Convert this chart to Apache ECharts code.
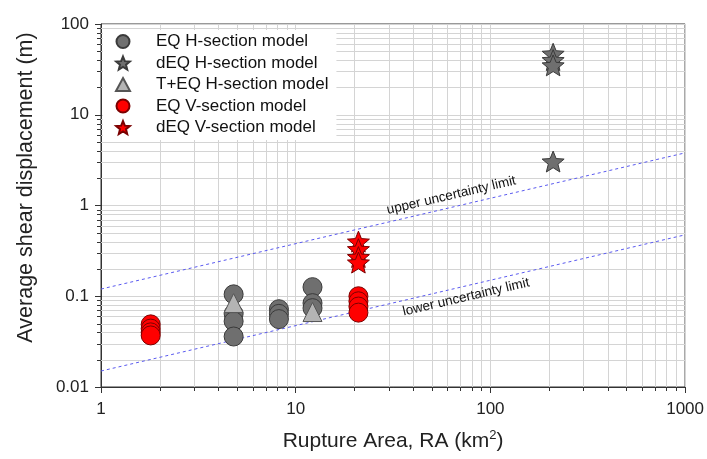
<!DOCTYPE html>
<html>
<head>
<meta charset="utf-8">
<script src="https://cdn.jsdelivr.net/npm/echarts@6/dist/echarts.min.js"></script>
<style>
  html, body { margin: 0; padding: 0; background: #fff; }
  #chart { width: 707px; height: 459px; }
</style>
</head>
<body>
<div id="chart"></div>
<script>
// [rupture area (km²), average shear displacement (m)]
const eqHSection = [
  [4.8, 0.105], [4.8, 0.064], [4.8, 0.053], [4.8, 0.036],
  [8.2, 0.072], [8.2, 0.064], [8.2, 0.056],
  [12.2, 0.126], [12.2, 0.084], [12.2, 0.074]
];
const dEqHSection = [[210, 47], [210, 40], [210, 35], [210, 3.05]];
const tEqHSection = [[4.8, 0.084], [12.2, 0.067]];
const eqVSection = [
  [1.8, 0.049], [1.8, 0.044], [1.8, 0.040], [1.8, 0.037],
  [21, 0.100], [21, 0.088], [21, 0.077], [21, 0.066]
];
const dEqVSection = [[21, 0.40], [21, 0.33], [21, 0.27], [21, 0.235]];

// uncertainty bounds (end points across the plotted range)
const upperLimit = [[1, 0.12], [1000, 3.8]];
const lowerLimit = [[1, 0.015], [1000, 0.475]];

// where the bound captions sit, in data units
const upperCaptionAt = [63, 1.29];
const lowerCaptionAt = [75, 0.0975];

const seriesNames = [
  'EQ H-section model', 'dEQ H-section model', 'T+EQ H-section model',
  'EQ V-section model', 'dEQ V-section model'
];

// decade subdivisions for the log grid
const xMinor = [2, 3, 4, 5, 6, 7, 8, 9, 20, 30, 40, 50, 60, 70, 80, 90, 200, 300, 400, 500, 600, 700, 800, 900];
const yMinor = [0.02, 0.03, 0.04, 0.05, 0.06, 0.07, 0.08, 0.09,
  0.2, 0.3, 0.4, 0.5, 0.6, 0.7, 0.8, 0.9,
  2, 3, 4, 5, 6, 7, 8, 9, 20, 30, 40, 50, 60, 70, 80, 90];

const FONT = 'Arial, "Liberation Sans", sans-serif';
const STAR = 'path://M50 0 L62.93 32.2 L97.55 34.55 L70.92 56.8 L79.39 90.45 L50 72 L20.61 90.45 L29.08 56.8 L2.45 34.55 L37.07 32.2 Z';
const GRID_COLOR = '#d4d4d4';

const chart = echarts.init(document.getElementById('chart'), null, { renderer: 'canvas' });

function minorX(params, api) {
  const cs = params.coordSys;
  const p = api.coord([api.value(0), api.value(1)]);
  const x = Math.round(p[0]) + 0.5;
  const bottom = cs.y + cs.height;
  return {
    type: 'group',
    children: [
      { type: 'line', shape: { x1: x, y1: cs.y, x2: x, y2: bottom }, style: { stroke: GRID_COLOR, lineWidth: 1 } },
      { type: 'line', shape: { x1: x, y1: bottom, x2: x, y2: bottom + 4 }, style: { stroke: '#333', lineWidth: 1 } }
    ]
  };
}
function minorY(params, api) {
  const cs = params.coordSys;
  const p = api.coord([api.value(0), api.value(1)]);
  const y = Math.round(p[1]) + 0.5;
  return {
    type: 'group',
    children: [
      { type: 'line', shape: { x1: cs.x, y1: y, x2: cs.x + cs.width, y2: y }, style: { stroke: GRID_COLOR, lineWidth: 1 } },
      { type: 'line', shape: { x1: cs.x - 4, y1: y, x2: cs.x, y2: y }, style: { stroke: '#333', lineWidth: 1 } }
    ]
  };
}

function markerSeries(name, data, symbol, size, fill, stroke) {
  return {
    name, type: 'scatter', data, symbol, symbolSize: size, symbolKeepAspect: true,
    itemStyle: { color: fill, borderColor: stroke, borderWidth: 1, opacity: 1 },
    emphasis: { disabled: true }, z: 5
  };
}

function boundSeries(data) {
  return {
    type: 'line', data, symbol: 'none', silent: true, z: 3,
    lineStyle: { color: '#5a5af0', width: 1, type: [3, 3] }
  };
}

const option = {
  backgroundColor: '#fff',
  animation: false,
  grid: { left: 101, right: 21, top: 24, bottom: 72, show: true, borderColor: '#333', borderWidth: 1 },
  xAxis: {
    type: 'log', logBase: 10, min: 1, max: 1000,
    name: 'Rupture Area, RA (km{sup|2})', nameLocation: 'middle', nameGap: 42,
    nameTextStyle: {
      fontFamily: FONT, fontSize: 21, color: '#222',
      rich: { sup: { fontFamily: FONT, fontSize: 13, color: '#222', verticalAlign: 'top', padding: [0, 0, 11, 0] } }
    },
    axisLine: { lineStyle: { color: '#333' } },
    axisTick: { length: 6, lineStyle: { color: '#333' } },
    axisLabel: { fontFamily: FONT, fontSize: 17, color: '#222', margin: 14, formatter: v => String(+(+v).toPrecision(3)) },
    splitLine: { show: true, lineStyle: { color: GRID_COLOR } },
    minorTick: { show: false }, minorSplitLine: { show: false }
  },
  yAxis: {
    type: 'log', logBase: 10, min: 0.01, max: 100,
    name: 'Average shear displacement (m)', nameLocation: 'middle', nameGap: 64,
    nameTextStyle: { fontFamily: FONT, fontSize: 21.5, color: '#222', padding: [0, 0, 0, 36] },
    axisLine: { lineStyle: { color: '#333' } },
    axisTick: { length: 6, lineStyle: { color: '#333' } },
    axisLabel: { fontFamily: FONT, fontSize: 17, color: '#222', margin: 12, formatter: v => String(+(+v).toPrecision(3)) },
    splitLine: { show: true, lineStyle: { color: GRID_COLOR } },
    minorTick: { show: false }, minorSplitLine: { show: false }
  },
  legend: {
    data: seriesNames,
    orient: 'vertical', left: 103, top: 30,
    padding: [3, 8, 4, 12],
    backgroundColor: '#fff',
    itemWidth: 14, itemHeight: 13, itemGap: 4.5,
    textStyle: { fontFamily: FONT, fontSize: 17, color: '#111', padding: [0, 0, 0, 21] },
    selectedMode: false
  },
  series: [
    { type: 'custom', renderItem: minorX, data: xMinor.map(v => [v, 0.01]), silent: true, clip: false, z: 1 },
    { type: 'custom', renderItem: minorY, data: yMinor.map(v => [1, v]), silent: true, clip: false, z: 1 },
    boundSeries(upperLimit),
    boundSeries(lowerLimit),
    markerSeries(seriesNames[0], eqHSection, 'circle', 19, '#6f6f6f', '#3a3a3a'),
    markerSeries(seriesNames[1], dEqHSection, STAR, 22, '#6f6f6f', '#3a3a3a'),
    markerSeries(seriesNames[2], tEqHSection, 'triangle', 19, '#b4b4b4', '#555'),
    markerSeries(seriesNames[3], eqVSection, 'circle', 19, '#ff0000', '#7a0000'),
    markerSeries(seriesNames[4], dEqVSection, STAR, 22, '#ff0000', '#7a0000')
  ]
};

chart.setOption(option);

// captions that run along the dashed bounds
function caption(text, bound, at) {
  const a = chart.convertToPixel({ gridIndex: 0 }, bound[0]);
  const b = chart.convertToPixel({ gridIndex: 0 }, bound[1]);
  const p = chart.convertToPixel({ gridIndex: 0 }, at);
  return {
    type: 'text', x: p[0], y: p[1], rotation: Math.atan2(a[1] - b[1], b[0] - a[0]), z: 10,
    style: { text, fill: '#111', font: '13.5px ' + FONT, align: 'center', verticalAlign: 'middle' }
  };
}
chart.setOption({
  graphic: [
    caption('upper uncertainty limit', upperLimit, upperCaptionAt),
    caption('lower uncertainty limit', lowerLimit, lowerCaptionAt)
  ]
});
</script>
</body>
</html>
